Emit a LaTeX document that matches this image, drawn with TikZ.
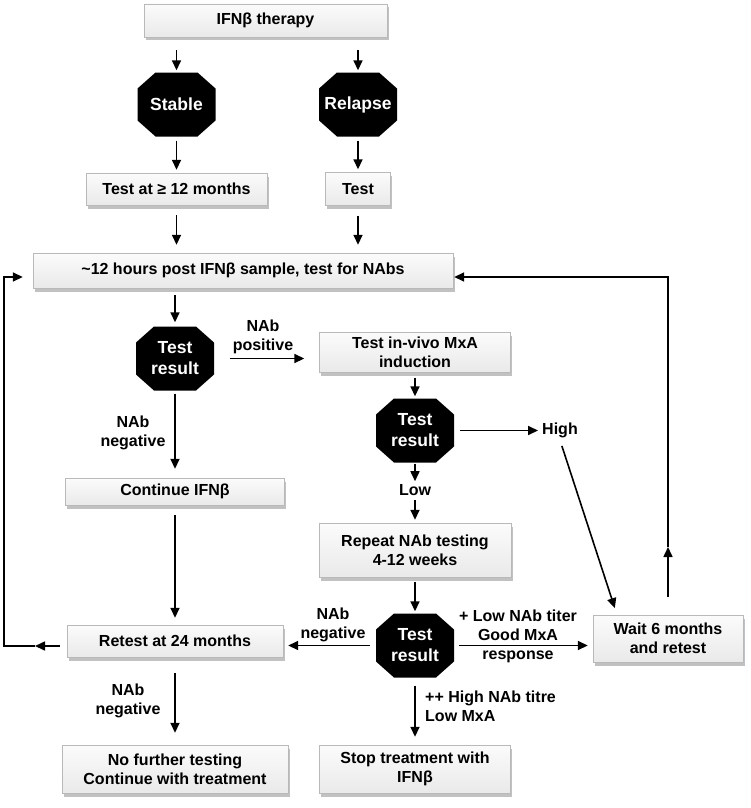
\documentclass[tikz,border=0pt]{standalone}
\usepackage{fontspec}
\setmainfont{Liberation Sans}
\usetikzlibrary{arrows.meta,shadows}

\begin{document}
\begin{tikzpicture}[x=1pt,y=-1pt,
  box/.style={draw=gray!55, top color=gray!3, bottom color=gray!17, align=center, inner sep=2pt, font=\fontsize{16pt}{19pt}\selectfont\bfseries, drop shadow={shadow xshift=1.5pt, shadow yshift=-3.5pt, fill=gray!65, opacity=0.75}},
  oct/.style={fill=white, minimum width=78pt, minimum height=64pt, inner sep=0pt, align=center, text=white, font=\fontsize{17.5pt}{21pt}\selectfont\bfseries,
    path picture={\fill[black] ([xshift=18pt]path picture bounding box.north west) -- ([xshift=-18pt]path picture bounding box.north east) -- ([yshift=-16pt]path picture bounding box.north east) -- ([yshift=16pt]path picture bounding box.south east) -- ([xshift=-18pt]path picture bounding box.south east) -- ([xshift=18pt]path picture bounding box.south west) -- ([yshift=16pt]path picture bounding box.south west) -- ([yshift=-16pt]path picture bounding box.north west) -- cycle;}},
  lbl/.style={align=center, inner sep=2pt, font=\fontsize{16pt}{19pt}\selectfont\bfseries},
  arr/.style={-{Triangle[length=10pt,width=9pt]}, line width=1.6pt},
]
\useasboundingbox (0,0) rectangle (750,808);

% Start
\node[box, minimum width=243, minimum height=33] (ther) at (265.5,20.5) {IFNβ therapy};
\node[oct] (stable) at (176.5,104.5) {Stable};
\node[oct] (relapse) at (358,104.5) {Relapse};
\node[box, minimum width=181, minimum height=32] (t12) at (176.5,189) {Test at ≥ 12 months};
\node[box, minimum width=65, minimum height=33] (test) at (358,189) {Test};
\node[box, minimum width=420, minimum height=35] (nab) at (243,270.5) {\textasciitilde 12 hours post IFNβ sample, test for NAbs};

% First result
\node[oct] (res1) at (175,358.5) {Test\\result};
\node[box, minimum width=191, minimum height=40] (mxa) at (415,352) {Test in-vivo MxA\\induction};
\node[oct] (res2) at (415,430.5) {Test\\result};
\node[lbl] (high) at (560,430.5) {High};
\node[lbl] (low) at (415,490) {Low};
\node[box, minimum width=192, minimum height=54] (rep) at (415,550) {Repeat NAb testing\\4-12 weeks};
\node[box, minimum width=219, minimum height=27] (cont) at (175,491.5) {Continue IFNβ};

% Second result
\node[box, minimum width=216, minimum height=32] (retest) at (175,641) {Retest at 24 months};
\node[oct] (res3) at (415,645.5) {Test\\result};
\node[box, minimum width=150, minimum height=47] (wait) at (668,638.5) {Wait 6 months\\and retest};
\node[box, minimum width=191, minimum height=48] (stop) at (415,769) {Stop treatment with\\IFNβ};
\node[box, minimum width=226, minimum height=48] (nofur) at (175,769) {No further testing\\Continue with treatment};

% Labels
\node[lbl] (lpos) at (263,336.5) {NAb\\positive};
\node[lbl] (lneg1) at (133,432.5) {NAb\\negative};
\node[lbl] (lneg2) at (333,624.5) {NAb\\negative};
\node[lbl] (lgood) at (518,636) {+ Low NAb titer\\Good MxA\\response};
\node[lbl, align=left, anchor=west] (lhigh) at (423,706.5) {++ High NAb titre\\Low MxA};
\node[lbl] (lneg3) at (128,700.5) {NAb\\negative};

% Arrows
\draw[arr, shorten <=13pt, shorten >=2pt] (stable |- ther.south) -- (stable.north);
\draw[arr, shorten <=13pt, shorten >=2pt] (relapse |- ther.south) -- (relapse.north);
\draw[arr, shorten <=4pt, shorten >=3pt] (stable.south) -- (t12.north);
\draw[arr, shorten <=4pt, shorten >=3pt] (relapse.south) -- (test.north);
\draw[arr, shorten <=10pt, shorten >=8pt] (t12.south) -- (t12.south |- nab.north);
\draw[arr, shorten <=10pt, shorten >=8pt] (test.south) -- (test.south |- nab.north);
\draw[arr, shorten <=7pt, shorten >=4pt] (nab.south -| res1) -- (res1.north);
\draw[arr, shorten <=16pt, shorten >=15pt] (res1.east) -- (res1.east -| mxa.west);
\draw[arr, shorten <=6pt, shorten >=2pt] (mxa.south) -- (res2.north);
\draw[arr, shorten <=6pt, shorten >=2pt] (res2.east) -- (high.west);
\draw[arr, shorten <=6pt, shorten >=7pt] (high.south) -- ([xshift=-51pt]wait.north);
\draw[arr, shorten <=1pt, shorten >=1pt] (res2.south) -- (low.north);
\draw[arr, shorten <=2pt, shorten >=3pt] (low.south) -- (rep.north);
\draw[arr, shorten <=5pt, shorten >=2pt] (rep.south) -- (res3.north);
\draw[arr, shorten <=6pt, shorten >=5pt] (res3.west) -- (res3.west -| retest.east);
\draw[arr, shorten <=5pt, shorten >=5pt] (res3.east) -- (res3.east -| wait.west);
\draw[arr, shorten <=8pt, shorten >=8pt] (res3.south) -- (stop.north);
\draw[arr, shorten <=3pt, shorten >=9pt] (res1.south) -- (cont.north);
\draw[arr, shorten <=10pt, shorten >=7pt] (cont.south) -- (retest.north);
\draw[arr, shorten <=16pt, shorten >=12pt] (retest.south) -- (nofur.north);

% Loops back to the NAb test
\coordinate (lmid) at (35,646);
\coordinate (lbend) at (4,646);
\draw[arr, shorten <=7pt] (retest.west |- lmid) -- (lmid);
\draw[arr, shorten >=10pt] (lmid) -- (lbend) |- ([yshift=-6.5pt]nab.west);
\coordinate (rmid) at (668,547);
\draw[arr, shorten <=18pt] (wait.north) -- (rmid);
\draw[arr, shorten >=1pt] (rmid) |- ([yshift=-6.5pt]nab.east);
\end{tikzpicture}
\end{document}
